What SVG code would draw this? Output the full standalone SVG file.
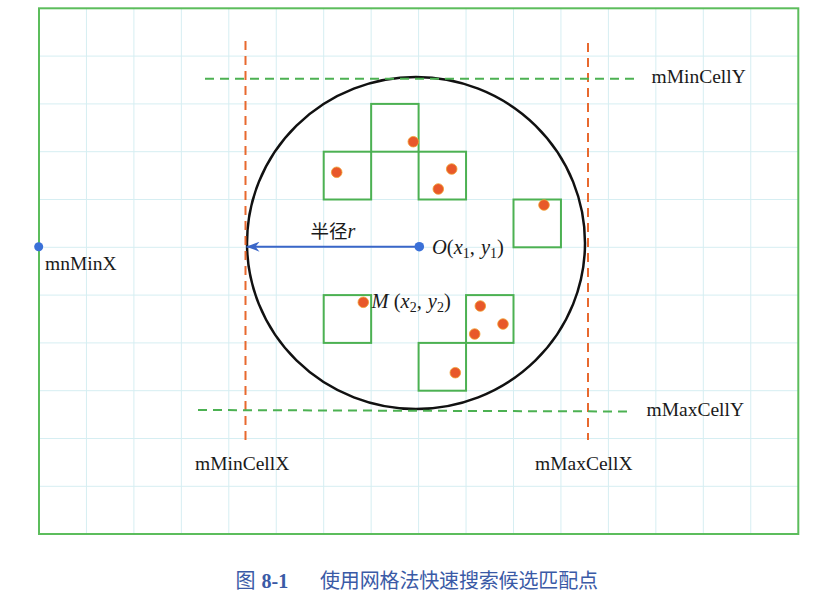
<svg xmlns="http://www.w3.org/2000/svg" width="828" height="601" viewBox="0 0 828 601">
<defs>
<style>
.grid line{stroke:#d6eef2;stroke-width:1}
.cell{fill:none;stroke:#4cb152;stroke-width:2}
.pt{fill:#e8582a;stroke:#f0a030;stroke-width:0.8}
.lbl{font-family:"Liberation Serif","DejaVu Serif",serif;font-size:19.5px;fill:#1a1a1a}
.math{font-family:"Liberation Serif","DejaVu Serif",serif;font-size:20.5px;fill:#1a1a1a}
.sub{font-size:14px}
.dashO{stroke:#e8692e;stroke-width:2;stroke-dasharray:9 6;fill:none}
.dashG{stroke:#4cb152;stroke-width:2;stroke-dasharray:9 6;fill:none}
.cap{font-size:20px;fill:#3a5aa6}
</style>
<marker id="arr" viewBox="0 0 13 10" refX="13" refY="5" markerWidth="13" markerHeight="10" markerUnits="userSpaceOnUse" orient="auto">
<path d="M0,0 L13,5 L0,10 L4,5 Z" fill="#3a66c8"/>
</marker>
</defs>
<rect width="828" height="601" fill="#ffffff"/>
<g id="grid" class="grid">
<line x1="86.45" y1="8.3" x2="86.45" y2="534"/>
<line x1="133.9" y1="8.3" x2="133.9" y2="534"/>
<line x1="181.35" y1="8.3" x2="181.35" y2="534"/>
<line x1="228.8" y1="8.3" x2="228.8" y2="534"/>
<line x1="276.25" y1="8.3" x2="276.25" y2="534"/>
<line x1="323.7" y1="8.3" x2="323.7" y2="534"/>
<line x1="371.15" y1="8.3" x2="371.15" y2="534"/>
<line x1="418.6" y1="8.3" x2="418.6" y2="534"/>
<line x1="466.05" y1="8.3" x2="466.05" y2="534"/>
<line x1="513.5" y1="8.3" x2="513.5" y2="534"/>
<line x1="560.95" y1="8.3" x2="560.95" y2="534"/>
<line x1="608.4" y1="8.3" x2="608.4" y2="534"/>
<line x1="655.85" y1="8.3" x2="655.85" y2="534"/>
<line x1="703.3" y1="8.3" x2="703.3" y2="534"/>
<line x1="750.75" y1="8.3" x2="750.75" y2="534"/>
<line x1="39" y1="56.1" x2="798.3" y2="56.1"/>
<line x1="39" y1="103.9" x2="798.3" y2="103.9"/>
<line x1="39" y1="151.7" x2="798.3" y2="151.7"/>
<line x1="39" y1="199.5" x2="798.3" y2="199.5"/>
<line x1="39" y1="247.3" x2="798.3" y2="247.3"/>
<line x1="39" y1="295.1" x2="798.3" y2="295.1"/>
<line x1="39" y1="342.9" x2="798.3" y2="342.9"/>
<line x1="39" y1="390.7" x2="798.3" y2="390.7"/>
<line x1="39" y1="438.5" x2="798.3" y2="438.5"/>
<line x1="39" y1="486.3" x2="798.3" y2="486.3"/>
</g>
<g id="frame">
<rect x="39" y="8.3" width="759.3" height="525.7" fill="none" stroke="#5cbd5c" stroke-width="2"/>
</g>
<g id="cells">
<rect class="cell" x="323.7" y="151.7" width="47.45" height="47.8"/>
<rect class="cell" x="371.15" y="103.9" width="47.45" height="47.8"/>
<rect class="cell" x="418.6" y="151.7" width="47.45" height="47.8"/>
<rect class="cell" x="513.5" y="199.5" width="47.45" height="47.8"/>
<rect class="cell" x="323.7" y="295.1" width="47.45" height="47.8"/>
<rect class="cell" x="466.05" y="295.1" width="47.45" height="47.8"/>
<rect class="cell" x="418.6" y="342.9" width="47.45" height="47.8"/>
</g>
<g id="circle">
<ellipse cx="416" cy="243" rx="169" ry="166" fill="none" stroke="#111" stroke-width="2.5"/>
</g>
<g id="bounds">
<line class="dashO" x1="245.5" y1="41" x2="245.5" y2="440"/>
<line class="dashO" x1="588" y1="43" x2="588" y2="440"/>
<line class="dashG" x1="205" y1="78.7" x2="637" y2="78.7"/>
<line class="dashG" x1="198" y1="410" x2="629" y2="411.5"/>
</g>
<g id="points">
<circle class="pt" cx="413.3" cy="141.7" r="5.3"/>
<circle class="pt" cx="336.7" cy="172.3" r="5.3"/>
<circle class="pt" cx="451.7" cy="169" r="5.3"/>
<circle class="pt" cx="438.3" cy="189" r="5.3"/>
<circle class="pt" cx="544" cy="205" r="5.3"/>
<circle class="pt" cx="363.3" cy="302.3" r="5.3"/>
<circle class="pt" cx="480.3" cy="306" r="5.3"/>
<circle class="pt" cx="503" cy="324" r="5.3"/>
<circle class="pt" cx="474.7" cy="334" r="5.3"/>
<circle class="pt" cx="455.3" cy="372.7" r="5.3"/>
</g>
<g id="connectors">
<line x1="419.3" y1="246.7" x2="246.5" y2="246.7" stroke="#3a66c8" stroke-width="2" marker-end="url(#arr)"/>
</g>
<g id="node-O">
<circle cx="419.3" cy="246.7" r="4.8" fill="#3a70d8"/>
<text class="math" x="432" y="253.5"><tspan font-style="italic">O</tspan>(<tspan font-style="italic">x</tspan><tspan class="sub" dy="4">1</tspan><tspan dy="-4">,</tspan><tspan font-style="italic" dx="6">y</tspan><tspan class="sub" dy="4">1</tspan><tspan dy="-4">)</tspan></text>
</g>
<g id="node-M">
<text class="math" x="371.5" y="307.5"><tspan font-style="italic">M</tspan> (<tspan font-style="italic">x</tspan><tspan class="sub" dy="4">2</tspan><tspan dy="-4">,</tspan><tspan font-style="italic" dx="6">y</tspan><tspan class="sub" dy="4">2</tspan><tspan dy="-4">)</tspan></text>
</g>
<g id="radius-label">
<text x="310.5" y="238" font-size="18.5" fill="#1a1a1a" font-family="'Noto Sans CJK SC',sans-serif">半径<tspan font-family="'Liberation Serif',serif" font-style="italic" font-size="20">r</tspan></text>
</g>
<g id="node-mnMinX">
<circle cx="38.7" cy="246.7" r="4.5" fill="#3a70d8"/>
<text class="lbl" x="45" y="270">mnMinX</text>
</g>
<g id="labels">
<text class="lbl" x="651.5" y="83">mMinCellY</text>
<text class="lbl" x="646.5" y="416">mMaxCellY</text>
<text class="lbl" x="195" y="470">mMinCellX</text>
<text class="lbl" x="535" y="470">mMaxCellX</text>
</g>
<g id="caption">
<text class="cap" x="235.5" y="588" font-size="18.5" font-family="'Noto Sans CJK SC',sans-serif">图</text>
<text class="cap" x="261.5" y="588" font-family="'Liberation Serif',serif" font-weight="bold" font-size="19">8-1</text>
<text class="cap" x="320" y="588" textLength="278" lengthAdjust="spacing" font-family="'Noto Sans CJK SC',sans-serif">使用网格法快速搜索候选匹配点</text>
</g>
</svg>
